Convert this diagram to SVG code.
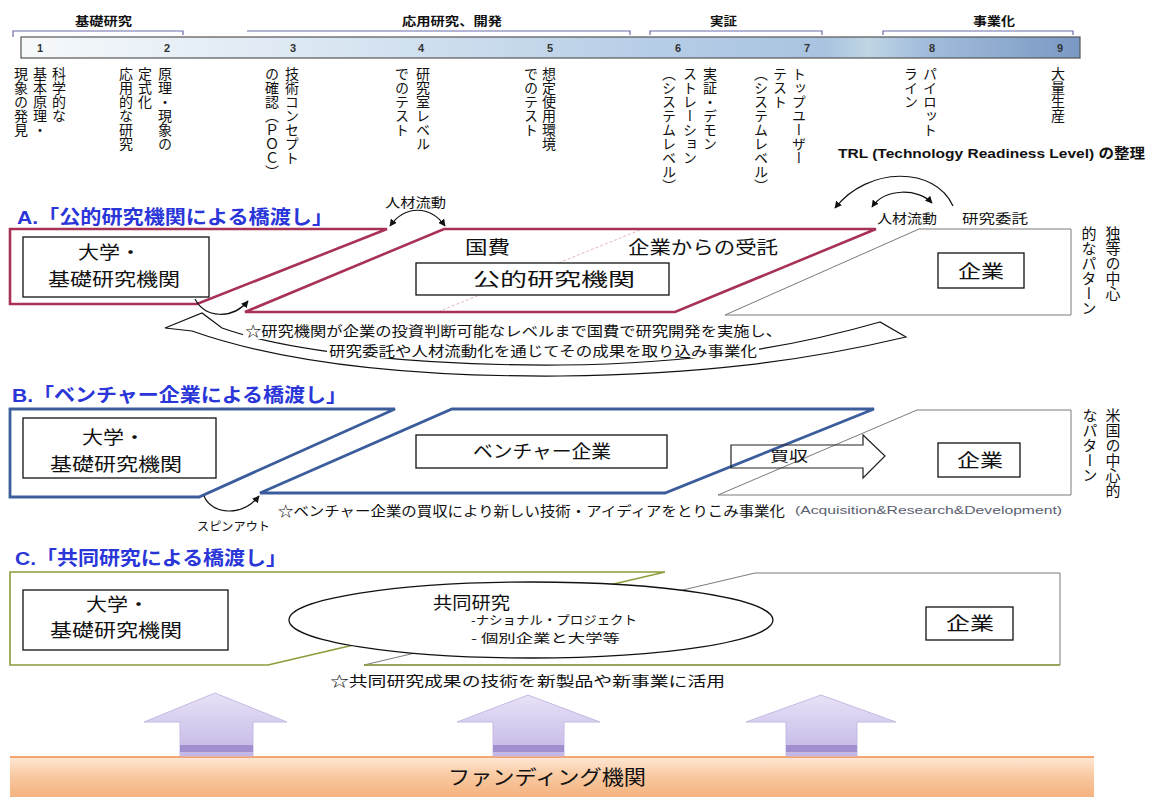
<svg xmlns="http://www.w3.org/2000/svg" width="1149" height="797" viewBox="0 0 1149 797">
<defs>
<style>
.t{font-family:"Liberation Sans","Noto Sans CJK JP",sans-serif;fill:#111}
.j{font-family:"Noto Sans CJK JP","Liberation Sans",sans-serif;fill:#111}
.v{font-family:"Noto Sans CJK JP",sans-serif;writing-mode:vertical-rl;font-size:14px;fill:#111}
.sv{font-family:"Noto Sans CJK JP",sans-serif;writing-mode:vertical-rl;font-size:15px;fill:#111}
.ttl{font-family:"Liberation Sans","Noto Sans CJK JP",sans-serif;font-size:19px;font-weight:bold;fill:#2a36d8}
.hd{font-family:"Noto Sans CJK JP",sans-serif;font-size:12px;font-weight:bold;fill:#111}
.num{font-family:"Liberation Sans",sans-serif;font-size:11px;font-weight:bold;fill:#333}
.box{fill:#fff;stroke:#111;stroke-width:1.3}
.red{fill:none;stroke:#a83256;stroke-width:2.6;stroke-linejoin:miter}
.blue{fill:none;stroke:#3b5d9c;stroke-width:2.8}
.grey{fill:none;stroke:#7a7a7a;stroke-width:1}
.olive{fill:none;stroke:#8c9c3c;stroke-width:1.6}
.brk{fill:none;stroke:#6a6aaa;stroke-width:1.2}
.ln{fill:none;stroke:#111;stroke-width:1.2}
.up{fill:url(#upg);stroke:#c4bbe2;stroke-width:1}
</style>
<linearGradient id="barg" x1="0" y1="0" x2="1" y2="0">
<stop offset="0" stop-color="#f6f9fb"/>
<stop offset="0.3" stop-color="#d9e6f2"/>
<stop offset="0.6" stop-color="#b6cde6"/>
<stop offset="0.76" stop-color="#a9c3e0"/>
<stop offset="0.8" stop-color="#c0d6e4"/>
<stop offset="0.85" stop-color="#a3bedc"/>
<stop offset="1" stop-color="#7a99c4"/>
</linearGradient>
<linearGradient id="upg" x1="0" y1="0" x2="0" y2="1">
<stop offset="0" stop-color="#e8e2f6"/>
<stop offset="1" stop-color="#c3b6e6"/>
</linearGradient>
<linearGradient id="fundg" x1="0" y1="0" x2="0" y2="1">
<stop offset="0" stop-color="#fde8d6"/>
<stop offset="0.45" stop-color="#f9caa2"/>
<stop offset="1" stop-color="#f5b27e"/>
</linearGradient>
<marker id="ah" viewBox="0 0 10 10" refX="9" refY="5" markerWidth="6" markerHeight="6" orient="auto-start-reverse">
<path d="M0,0 L10,5 L0,10 z" fill="#111"/>
</marker>
</defs>
<rect width="1149" height="797" fill="#ffffff"/>

<!-- TRL header -->
<g id="trl-phases">
<text class="hd" x="75" y="26" textLength="57" lengthAdjust="spacingAndGlyphs">基礎研究</text>
<text class="hd" x="402" y="26" textLength="100" lengthAdjust="spacingAndGlyphs">応用研究、開発</text>
<text class="hd" x="710" y="26" textLength="27" lengthAdjust="spacingAndGlyphs">実証</text>
<text class="hd" x="973" y="26" textLength="42" lengthAdjust="spacingAndGlyphs">事業化</text>
<path class="brk" d="M13,37 V31 H183 V35"/>
<path class="brk" d="M247,31 H630 V35"/>
<path class="brk" d="M650,35 V31 H822 V35"/>
<path class="brk" d="M883,35 V31 H1073 V35"/>
</g>
<g id="trl-bar">
<rect x="21" y="37" width="1059" height="21" fill="url(#barg)" stroke="#555" stroke-width="1.2"/>
<text class="num" x="40" y="52" text-anchor="middle">1</text>
<text class="num" x="167" y="52" text-anchor="middle">2</text>
<text class="num" x="293" y="52" text-anchor="middle">3</text>
<text class="num" x="421" y="52" text-anchor="middle">4</text>
<text class="num" x="550" y="52" text-anchor="middle">5</text>
<text class="num" x="678" y="52" text-anchor="middle">6</text>
<text class="num" x="807" y="52" text-anchor="middle">7</text>
<text class="num" x="932" y="52" text-anchor="middle">8</text>
<text class="num" x="1060" y="52" text-anchor="middle">9</text>
</g>
<g id="trl-descriptions">
<text class="v" x="59" y="67">科学的な</text>
<text class="v" x="40" y="67">基本原理・</text>
<text class="v" x="21" y="67">現象の発見</text>
<text class="v" x="165" y="67">原理・現象の</text>
<text class="v" x="145" y="67">定式化</text>
<text class="v" x="126" y="67">応用的な研究</text>
<text class="v" x="292" y="67">技術コンセプト</text>
<text class="v" x="272" y="67">の確認（ＰＯＣ）</text>
<text class="v" x="423" y="67">研究室レベル</text>
<text class="v" x="402" y="67">でのテスト</text>
<text class="v" x="549" y="67">想定使用環境</text>
<text class="v" x="531" y="67">でのテスト</text>
<text class="v" x="710" y="67">実証・デモン</text>
<text class="v" x="690" y="67">ストレーション</text>
<text class="v" x="669" y="67">（システムレベル）</text>
<text class="v" x="799" y="67">トップユーザー</text>
<text class="v" x="780" y="67">テスト</text>
<text class="v" x="761" y="67">（システムレベル）</text>
<text class="v" x="930" y="67">パイロット</text>
<text class="v" x="911" y="67">ライン</text>
<text class="v" x="1058" y="67">大量生産</text>
</g>
<g id="trl-caption">
<text class="t" x="838" y="158" font-size="13.5" font-weight="bold" textLength="307" lengthAdjust="spacingAndGlyphs">TRL (Technology Readiness Level) の整理</text>
</g>

<!-- Section A -->
<g id="sec-a-title"><text class="ttl" x="17" y="224" textLength="316" lengthAdjust="spacingAndGlyphs">A.「公的研究機関による橋渡し」</text></g>
<g id="sec-a-frames">
<polygon class="red" points="10,229 387,229 197,304 10,304"/>
<line x1="640" y1="230" x2="440" y2="311" stroke="#e8b4c2" stroke-width="1" stroke-dasharray="3,2"/>
<polygon class="red" points="444,229 876,229 675,312 245,312"/>
<polygon class="grey" points="919,229 1071,229 1071,315 725,315"/>
</g>
<g id="a-univ">
<rect class="box" x="23" y="237" width="186" height="60"/>
<text class="j" x="78" y="259" font-size="18" textLength="63" lengthAdjust="spacingAndGlyphs">大学・</text>
<text class="j" x="48" y="286" font-size="18" textLength="132" lengthAdjust="spacingAndGlyphs">基礎研究機関</text>
</g>
<g id="a-public">
<text class="j" x="465" y="254" font-size="18" textLength="45" lengthAdjust="spacingAndGlyphs">国費</text>
<text class="j" x="628" y="254" font-size="18" textLength="150" lengthAdjust="spacingAndGlyphs">企業からの受託</text>
<rect class="box" x="416" y="263" width="253" height="32"/>
<text class="j" x="473" y="286" font-size="18" textLength="162" lengthAdjust="spacingAndGlyphs">公的研究機関</text>
</g>
<g id="a-company">
<rect class="box" x="938" y="253" width="86" height="35"/>
<text class="j" x="958" y="278" font-size="18" textLength="46" lengthAdjust="spacingAndGlyphs">企業</text>
</g>
<g id="a-side">
<text class="sv" x="1113" y="226">独等の中心</text>
<text class="sv" x="1089" y="226">的なパターン</text>
</g>
<g id="a-note">
<path d="M165,328 L202,313 L222,328 C290,352 420,366 560,365 C700,364 800,345 880,322 L906,337 C800,362 700,374 560,376 C400,377 280,362 192,331 Z" fill="#fff" stroke="#111" stroke-width="1.2"/>
<rect x="243" y="322" width="542" height="17" fill="#fff"/>
<rect x="327" y="343" width="432" height="15" fill="#fff"/>
<text class="j" x="245" y="336" font-size="14" textLength="537" lengthAdjust="spacingAndGlyphs">☆研究機関が企業の投資判断可能なレベルまで国費で研究開発を実施し、</text>
<text class="j" x="329" y="356" font-size="14" textLength="428" lengthAdjust="spacingAndGlyphs">研究委託や人材流動化を通じてその成果を取り込み事業化</text>
</g>

<!-- Section B -->
<g id="sec-b-title"><text class="ttl" x="12" y="402" textLength="335" lengthAdjust="spacingAndGlyphs">B.「ベンチャー企業による橋渡し」</text></g>
<g id="sec-b-frames">
<polygon class="blue" points="10,409 395,409 199,497 10,497"/>
<polygon class="blue" points="452,409 874,409 665,493 260,493"/>
<polygon class="grey" points="917,410 1071,410 1071,495 718,495"/>
</g>
<g id="b-univ">
<rect class="box" x="23" y="418" width="193" height="60"/>
<text class="j" x="82" y="444" font-size="18" textLength="63" lengthAdjust="spacingAndGlyphs">大学・</text>
<text class="j" x="50" y="471" font-size="18" textLength="132" lengthAdjust="spacingAndGlyphs">基礎研究機関</text>
</g>
<g id="b-venture">
<rect class="box" x="416" y="435" width="251" height="33"/>
<text class="j" x="473" y="458" font-size="18" textLength="138" lengthAdjust="spacingAndGlyphs">ベンチャー企業</text>
</g>
<g id="b-acquire">
<polygon points="731,445 863,445 863,435 885,456 863,478 863,468 731,468" fill="none" stroke="#222" stroke-width="1.2"/>
<text class="j" x="770" y="461" font-size="14" textLength="38" lengthAdjust="spacingAndGlyphs">買収</text>
</g>
<g id="b-company">
<rect class="box" x="938" y="443" width="82" height="34"/>
<text class="j" x="957" y="467" font-size="18" textLength="46" lengthAdjust="spacingAndGlyphs">企業</text>
</g>
<g id="b-side">
<text class="sv" x="1113" y="408">米国の中心的</text>
<text class="sv" x="1090" y="408">なパターン</text>
</g>
<g id="b-note">
<text class="j" x="278" y="516" font-size="13.5" textLength="507" lengthAdjust="spacingAndGlyphs">☆ベンチャー企業の買収により新しい技術・アイディアをとりこみ事業化</text>
<text class="t" x="795" y="514" font-size="10.5" style="fill:#5a6070" textLength="267" lengthAdjust="spacingAndGlyphs">(Acquisition&amp;Research&amp;Development)</text>
<text class="j" x="197" y="531" font-size="12" textLength="73" lengthAdjust="spacingAndGlyphs">スピンアウト</text>
</g>

<!-- Section C -->
<g id="sec-c-title"><text class="ttl" x="15" y="565" textLength="272" lengthAdjust="spacingAndGlyphs">C.「共同研究による橋渡し」</text></g>
<g id="sec-c-frames">
<polygon class="olive" points="10,572 665,572 268,665 10,665"/>
<polygon class="grey" points="755,573 1060,573 1060,665 364,665"/>
<line class="olive" x1="364" y1="665" x2="1060" y2="665"/>
</g>
<g id="c-joint">
<ellipse cx="531" cy="620" rx="242" ry="38" fill="#fff" stroke="#111" stroke-width="1.3"/>
<text class="j" x="433" y="609" font-size="17" textLength="77" lengthAdjust="spacingAndGlyphs">共同研究</text>
<text class="j" x="471" y="625" font-size="12.5" textLength="166" lengthAdjust="spacingAndGlyphs">-ナショナル・プロジェクト</text>
<text class="j" x="471" y="643" font-size="12.5" textLength="149" lengthAdjust="spacingAndGlyphs">- 個別企業と大学等</text>
</g>
<g id="c-univ">
<rect class="box" x="23" y="590" width="205" height="60"/>
<text class="j" x="86" y="611" font-size="18" textLength="63" lengthAdjust="spacingAndGlyphs">大学・</text>
<text class="j" x="50" y="637" font-size="18" textLength="132" lengthAdjust="spacingAndGlyphs">基礎研究機関</text>
</g>
<g id="c-company">
<rect class="box" x="926" y="607" width="87" height="33"/>
<text class="j" x="946" y="630" font-size="18" textLength="48" lengthAdjust="spacingAndGlyphs">企業</text>
</g>
<g id="c-note">
<text class="j" x="330" y="686" font-size="14" textLength="395" lengthAdjust="spacingAndGlyphs">☆共同研究成果の技術を新製品や新事業に活用</text>
</g>

<!-- Funding -->
<g id="funding">
<rect x="10" y="757" width="1084" height="40" fill="url(#fundg)"/>
<line x1="10" y1="757" x2="1094" y2="757" stroke="#f08a48" stroke-width="1.5"/>
<text class="j" x="448" y="785" font-size="20" textLength="198" lengthAdjust="spacingAndGlyphs">ファンディング機関</text>
</g>
<g id="up-arrow-1">
<polygon class="up" points="215,693 287,722 253,722 253,756 180,756 180,722 144,722"/>
<rect x="180" y="745" width="73" height="7" fill="#a28fd0"/>
</g>
<g id="up-arrow-2">
<polygon class="up" points="528,695 600,722 564,722 564,756 493,756 493,722 457,722"/>
<rect x="493" y="745" width="71" height="7" fill="#a28fd0"/>
</g>
<g id="up-arrow-3">
<polygon class="up" points="821,695 896,722 857,722 857,756 786,756 786,722 746,722"/>
<rect x="786" y="745" width="71" height="7" fill="#a28fd0"/>
</g>

<!-- Connectors -->
<g id="connectors">
<path class="ln" d="M390,226 C405,205 430,205 445,226" marker-start="url(#ah)" marker-end="url(#ah)"/>
<text class="j" x="385" y="207" font-size="13" textLength="61" lengthAdjust="spacingAndGlyphs">人材流動</text>
<path class="ln" d="M195,299 C205,318 232,320 248,301" marker-end="url(#ah)"/>
<path class="ln" d="M953,206 C935,166 868,166 835,208" marker-end="url(#ah)"/>
<path class="ln" d="M872,207 C885,188 918,188 932,203" marker-start="url(#ah)" marker-end="url(#ah)"/>
<text class="j" x="877" y="223" font-size="13" textLength="60" lengthAdjust="spacingAndGlyphs">人材流動</text>
<text class="j" x="962" y="223" font-size="13" textLength="66" lengthAdjust="spacingAndGlyphs">研究委託</text>
<path class="ln" d="M204,496 C212,515 242,517 259,496" marker-end="url(#ah)"/>
</g>
</svg>
